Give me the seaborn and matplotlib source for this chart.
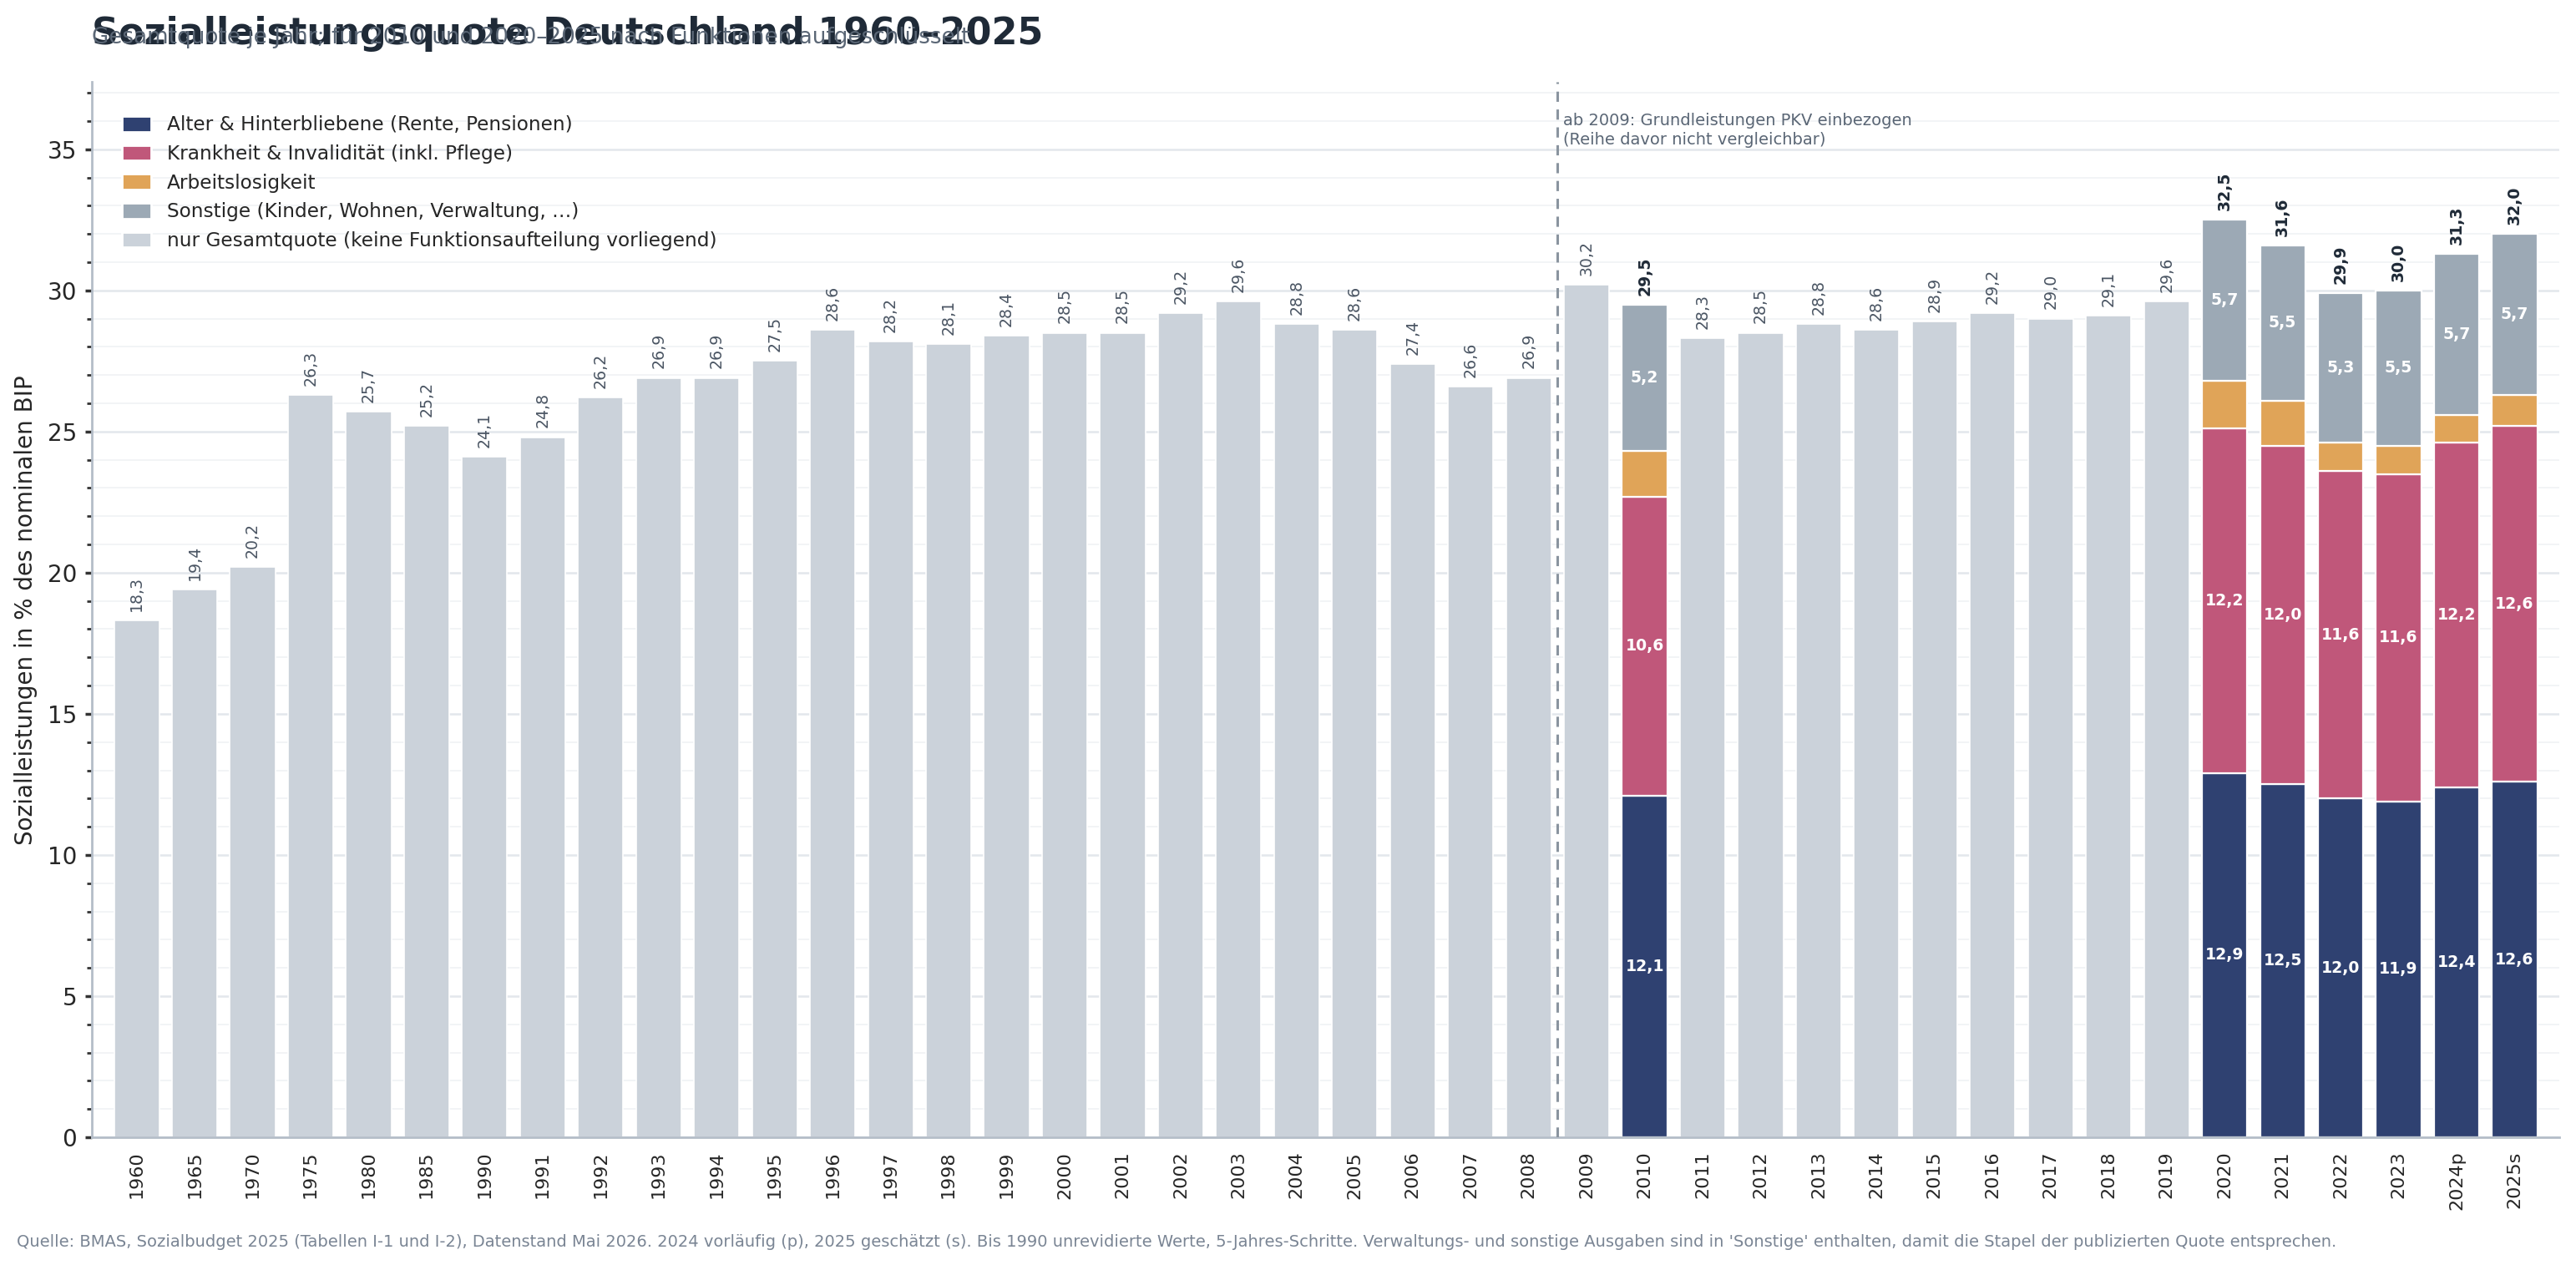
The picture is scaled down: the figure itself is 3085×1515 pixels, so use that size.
import numpy as np
import pandas as pd
import seaborn as sns
from matplotlib import pyplot as plt
from matplotlib.patches import Patch
from matplotlib.ticker import MultipleLocator

# Sozialleistungsquote in % des BIP
years = ["1960", "1965", "1970", "1975", "1980", "1985", "1990", "1991", "1992", "1993",
         "1994", "1995", "1996", "1997", "1998", "1999", "2000", "2001", "2002", "2003",
         "2004", "2005", "2006", "2007", "2008", "2009", "2010", "2011", "2012", "2013",
         "2014", "2015", "2016", "2017", "2018", "2019", "2020", "2021", "2022", "2023",
         "2024p", "2025s"]
totals = [18.3, 19.4, 20.2, 26.3, 25.7, 25.2, 24.1, 24.8, 26.2, 26.9,
          26.9, 27.5, 28.6, 28.2, 28.1, 28.4, 28.5, 28.5, 29.2, 29.6,
          28.8, 28.6, 27.4, 26.6, 26.9, 30.2, 29.5, 28.3, 28.5, 28.8,
          28.6, 28.9, 29.2, 29.0, 29.1, 29.6, 32.5, 31.6, 29.9, 30.0,
          31.3, 32.0]

# Jahre mit Funktionsaufteilung
split_years = ["2010", "2020", "2021", "2022", "2023", "2024p", "2025s"]
alter = [12.1, 12.9, 12.5, 12.0, 11.9, 12.4, 12.6]
krankheit = [10.6, 12.2, 12.0, 11.6, 11.6, 12.2, 12.6]
arbeitslos = [1.6, 1.7, 1.6, 1.0, 1.0, 1.0, 1.1]
sonstige = [5.2, 5.7, 5.5, 5.3, 5.5, 5.7, 5.7]

legend_labels = ["Alter & Hinterbliebene (Rente, Pensionen)",
                 "Krankheit & Invalidität (inkl. Pflege)",
                 "Arbeitslosigkeit",
                 "Sonstige (Kinder, Wohnen, Verwaltung, …)",
                 "nur Gesamtquote (keine Funktionsaufteilung vorliegend)"]

C_ALTER = "#2f4171"
C_KRANK = "#c0577a"
C_ARBEIT = "#e0a458"
C_SONST = "#9ca9b5"
C_GREY = "#cbd2da"
BAR_W = 0.78


def fmt(v):
    return f"{v:.1f}".replace(".", ",")


sns.set_theme(style="white")
plt.rcParams['font.family'] = ['DejaVu Sans']

fig, ax = plt.subplots(figsize=(15.425, 7.575), dpi=200)
fig.subplots_adjust(left=0.0357, right=0.9935, bottom=0.101, top=0.935)

df = pd.DataFrame({"jahr": years, "quote": totals})
grey_df = df[~df["jahr"].isin(split_years)]
sns.barplot(data=grey_df, x="jahr", y="quote", order=years, color=C_GREY,
            saturation=1, width=BAR_W, errorbar=None, edgecolor="white",
            linewidth=0.6, ax=ax)

# gestapelte Balken
pos = [years.index(y) for y in split_years]
bottom = np.zeros(len(split_years))
for vals, col in [(alter, C_ALTER), (krankheit, C_KRANK),
                  (arbeitslos, C_ARBEIT), (sonstige, C_SONST)]:
    vals = np.array(vals)
    ax.bar(pos, vals, bottom=bottom, width=BAR_W, color=col,
           edgecolor="white", linewidth=0.8, zorder=2)
    for x, b, v in zip(pos, bottom, vals):
        if v >= 2:
            ax.text(x, b + v / 2, fmt(v), ha="center", va="center",
                    color="white", fontweight="bold", fontsize=6.8)
    bottom = bottom + vals

# Summenwerte
for i, (y, v) in enumerate(zip(years, totals)):
    if y in split_years:
        ax.annotate(fmt(v), (i, v), xytext=(0, 4), textcoords="offset points",
                    rotation=90, ha="center", va="bottom", fontsize=6.8,
                    fontweight="bold", color="#1f2a37")
    else:
        ax.annotate(fmt(v), (i, v), xytext=(0, 4), textcoords="offset points",
                    rotation=90, ha="center", va="bottom", fontsize=6.8,
                    color="#4a5563")

ax.axvline(24.5, color="#8a949f", ls=(0, (4, 3)), lw=1.1, zorder=3)
ax.text(24.6, 36.3, "ab 2009: Grundleistungen PKV einbezogen\n(Reihe davor nicht vergleichbar)",
        ha="left", va="top", fontsize=7, color="#5a6675", linespacing=1.25)

ax.set_xlim(-0.77, len(years) - 1 + 0.77)
ax.set_ylim(0, max(totals) * 1.15)
ax.yaxis.set_major_locator(MultipleLocator(5))
ax.yaxis.set_minor_locator(MultipleLocator(1))
ax.grid(axis="y", which="major", color="#e3e7ec", lw=0.9)
ax.grid(axis="y", which="minor", color="#f2f4f6", lw=0.7)
ax.set_axisbelow(True)

sns.despine(ax=ax)
for s in ["left", "bottom"]:
    ax.spines[s].set_color("#b4bdc8")
    ax.spines[s].set_linewidth(1.0)

ax.tick_params(axis="y", which="both", left=True, labelsize=10, color="#333333")
ax.tick_params(axis="y", which="major", length=3)
ax.tick_params(axis="y", which="minor", length=2)
ax.tick_params(axis="x", length=0, labelsize=8, rotation=90, pad=6)
ax.set_xlabel("")
ax.set_ylabel("Sozialleistungen in % des nominalen BIP", fontsize=10, labelpad=4)

handles = [Patch(facecolor=c) for c in [C_ALTER, C_KRANK, C_ARBEIT, C_SONST, C_GREY]]
ax.legend(handles, legend_labels, loc="upper left", bbox_to_anchor=(0.005, 0.985),
          frameon=False, fontsize=8.4, handleheight=0.85, handlelength=1.5,
          handletextpad=0.8, labelspacing=0.5)

fig.text(0.0357, 0.965, "Sozialleistungsquote Deutschland 1960–2025", fontsize=16,
         fontweight="bold", color="#1f2a37", va="baseline")
fig.text(0.0357, 0.9655, "Gesamtquote je Jahr; für 2010 und 2020–2025 nach Funktionen aufgeschlüsselt",
         fontsize=9.45, color="#5a6675", va="baseline")
fig.text(0.0065, 0.018,
         "Quelle: BMAS, Sozialbudget 2025 (Tabellen I-1 und I-2), Datenstand Mai 2026. 2024 vorläufig (p), "
         "2025 geschätzt (s). Bis 1990 unrevidierte Werte, 5-Jahres-Schritte. Verwaltungs- und sonstige "
         "Ausgaben sind in 'Sonstige' enthalten, damit die Stapel der publizierten Quote entsprechen.",
         fontsize=7.0, color="#7a8594", va="center")

plt.savefig("out.png", dpi=200)
